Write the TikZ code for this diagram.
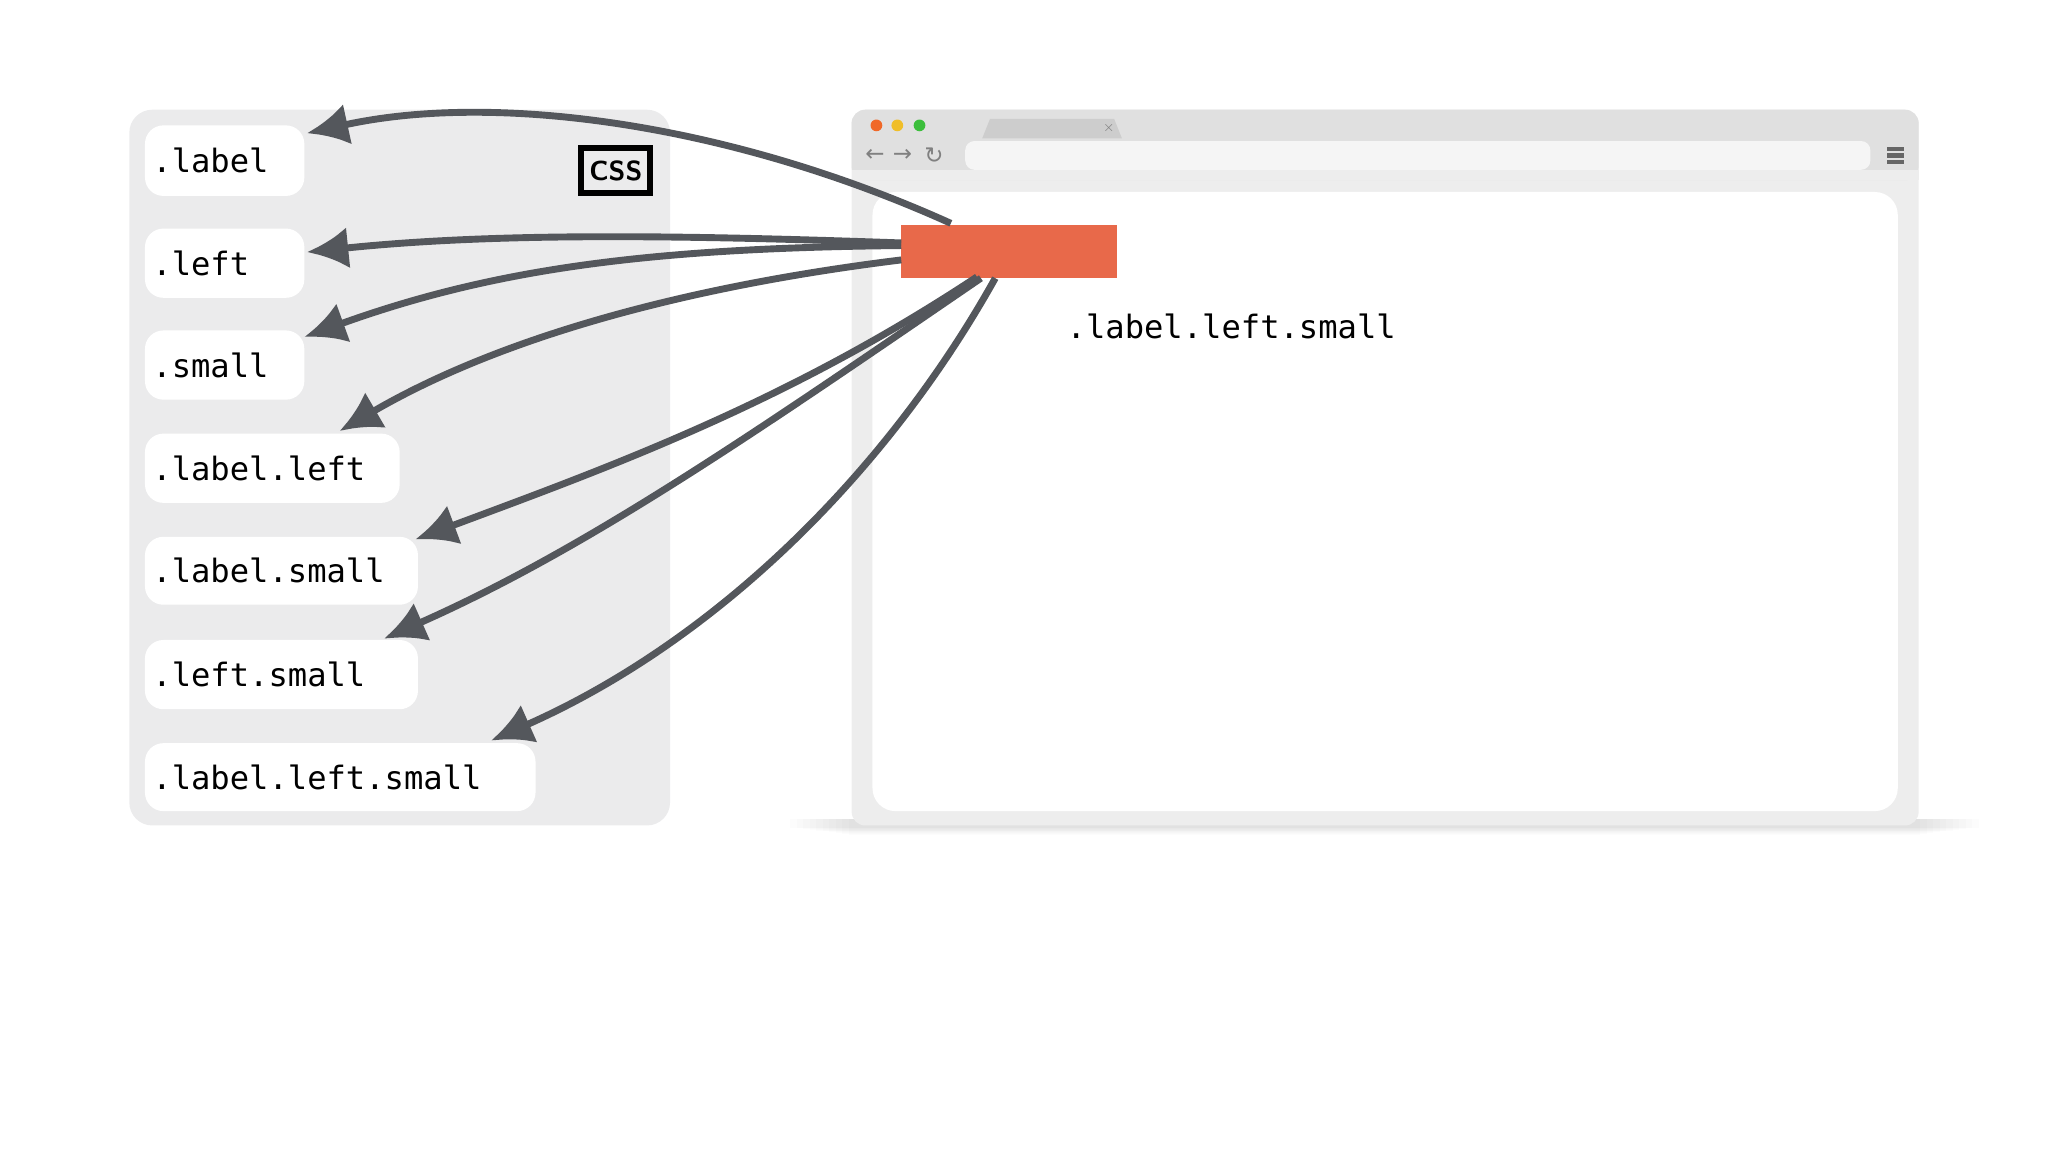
\documentclass[tikz,border=0pt]{standalone}
\usepackage{fontspec}
\setmonofont{DejaVu Sans Mono}
\newfontfamily\symf{DejaVu Sans}
\usetikzlibrary{arrows.meta}
\definecolor{panel}{HTML}{EBEBEC}
\definecolor{arr}{HTML}{54575C}
\definecolor{org}{HTML}{E8694A}
\definecolor{brw}{HTML}{EDEDED}
\definecolor{bar}{HTML}{E0E0E0}
\definecolor{addr}{HTML}{F5F5F5}
\definecolor{tab}{HTML}{CDCDCD}
\definecolor{dred}{HTML}{F06828}
\definecolor{dyel}{HTML}{F0BE28}
\definecolor{dgrn}{HTML}{3CBE3C}
\tikzset{x=0.01cm,y=-0.01cm,
 cls/.style={fill=white,rounded corners=4pt,draw=none},
 ctext/.style={anchor=west,font=\ttfamily\fontsize{7}{8}\selectfont,inner sep=0},
 conn/.style={draw=arr,line width=1.5pt,-{Latex[length=9pt,width=9pt]}}}
\begin{document}
\begin{tikzpicture}
\useasboundingbox (0,0) rectangle (1568,882);
\fill[panel,rounded corners=5pt] (99,84) rectangle (513,632);
\foreach \n/\t/\a/\b/\r in {a/.label/96/150/233,b/.left/175/228/233,c/.small/253/306/233,d/.label.left/332/385/306,e/.label.small/411/463/320,f/.left.small/490/543/320,g/.label.left.small/569/621/410}{
 \path[cls] (111,\a) rectangle (\r,\b);
 \node[ctext] (t\n) at (116,{(\a+\b)/2}) {\t};
}
\draw[line width=1.3pt] (445,113) rectangle (498,148);
\node[font=\sffamily\bfseries\fontsize{6}{7}\selectfont] (csst) at (471.5,131) {CSS};
\foreach \i in {1,...,10}{\fill[black,opacity=0.012] (600+\i*5,627) rectangle (1520-\i*5,633+\i*0.6);}
\fill[brw,rounded corners=3pt] (652,84) rectangle (1469,632);
\fill[bar,rounded corners=3pt] (652,84) rectangle (1469,138);
\fill[brw] (652,130) rectangle (1469,138);
\fill[white,rounded corners=5pt] (668,147) rectangle (1453,621);
\fill[addr,rounded corners=2pt] (739,108) rectangle (1432,130);
\fill[tab] (752,106) -- (758,91) -- (853,91) -- (859,106) -- cycle;
\node[font=\sffamily\fontsize{3}{4}\selectfont,text=gray] (tabx) at (849,98) {×};
\fill[dred] (671,96) circle (4.5);
\fill[dyel] (687,96) circle (4.5);
\fill[dgrn] (704,96) circle (4.5);
\node[font=\symf\fontsize{5}{6}\selectfont,text=gray] (nb) at (670,119) {←};
\node[font=\symf\fontsize{5}{6}\selectfont,text=gray] (nf) at (691,119) {→};
\node[font=\symf\fontsize{5}{6}\selectfont,text=gray] (nr) at (715,119) {↻};
\foreach \yy in {114,119,124}{\draw[gray!80!black,line width=1pt] (1445,\yy) -- (1458,\yy);}
\node[fill=org,minimum width=165*0.01cm,minimum height=41*0.01cm,inner sep=0] (el) at (772.5,192.5) {};
\node[ctext] (lbl) at (816,250) {.label.left.small};
\coordinate (s1) at (728,171);
\coordinate (s2) at (690,186);
\coordinate (s3) at (690,188);
\coordinate (s4) at (690,199);
\coordinate (s5) at (748,212);
\coordinate (s6) at (751,213);
\coordinate (s7) at (762,213);
\coordinate (e1) at (235,102);
\coordinate (e2) at (235,193);
\coordinate (e3) at (233,258);
\coordinate (e4) at (260,330);
\coordinate (e5) at (318,413);
\coordinate (e6) at (294,489);
\coordinate (e7) at (376,567);
\draw[conn] (s1) .. controls (560,95) and (380,70) .. (e1);
\draw[conn] (s2) .. controls (520,180) and (380,178) .. (e2);
\draw[conn] (s3) .. controls (500,190) and (380,205) .. (e3);
\draw[conn] (s4) .. controls (520,220) and (380,260) .. (e4);
\draw[conn] (s5) .. controls (600,310) and (460,360) .. (e5);
\draw[conn] (s6) .. controls (580,330) and (450,420) .. (e6);
\draw[conn] (s7) .. controls (680,360) and (550,490) .. (e7);
\end{tikzpicture}
\end{document}
